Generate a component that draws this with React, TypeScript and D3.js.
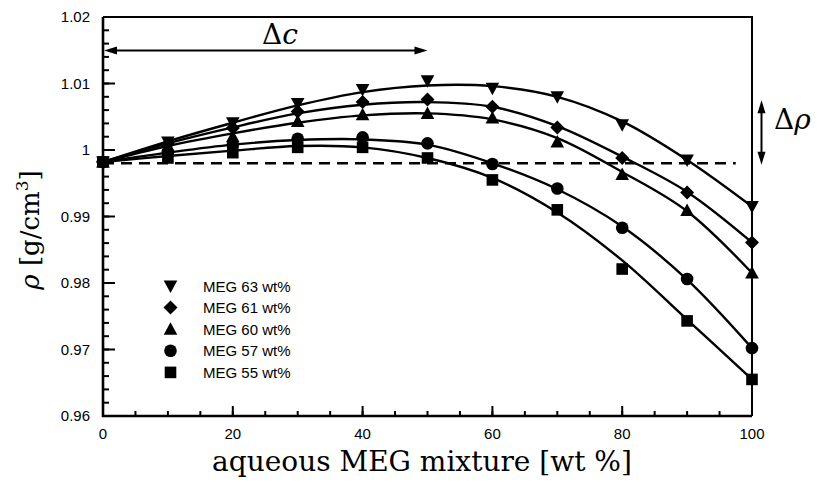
import React from 'react';
import * as d3 from 'd3';

// MEG content of the aqueous mixture, wt %
const conc = [0, 10, 20, 30, 40, 50, 60, 70, 80, 90, 100];

// measured densities, g/cm3
const meg63 = [0.9982, 1.0012, 1.0041, 1.0070, 1.0091, 1.0104, 1.0093, 1.0080, 1.0038, 0.9985, 0.9915];
const meg61 = [0.9982, 1.0009, 1.0033, 1.0058, 1.0072, 1.0076, 1.0065, 1.0034, 0.9988, 0.9936, 0.9861];
const meg60 = [0.9982, 1.0006, 1.0020, 1.0043, 1.0053, 1.0055, 1.0048, 1.0012, 0.9963, 0.9909, 0.9815];
const meg57 = [0.9982, 0.9996, 1.0008, 1.0017, 1.0019, 1.0010, 0.9979, 0.9942, 0.9883, 0.9806, 0.9702];
const meg55 = [0.9982, 0.9988, 0.9996, 1.0004, 1.0004, 0.9988, 0.9955, 0.9910, 0.9821, 0.9743, 0.9655];

// fitted curves read at the same concentrations
const fit63 = [0.9982, 1.0013, 1.0041, 1.0067, 1.0087, 1.0097, 1.0096, 1.0080, 1.0043, 0.9985, 0.9915];
const fit61 = [0.9982, 1.0010, 1.0034, 1.0055, 1.0068, 1.0072, 1.0065, 1.0036, 0.9990, 0.9937, 0.9861];
const fit60 = [0.9982, 1.0006, 1.0025, 1.0041, 1.0052, 1.0055, 1.0046, 1.0018, 0.9967, 0.9908, 0.9815];
const fit57 = [0.9982, 0.9996, 1.0008, 1.0015, 1.0016, 1.0008, 0.9980, 0.9941, 0.9885, 0.9805, 0.9702];
const fit55 = [0.9982, 0.9991, 0.9999, 1.0006, 1.0004, 0.9988, 0.9958, 0.9906, 0.9834, 0.9745, 0.9655];

const labels = ['MEG 63 wt%', 'MEG 61 wt%', 'MEG 60 wt%', 'MEG 57 wt%', 'MEG 55 wt%'];
const symbols = ['down', 'diamond', 'up', 'circle', 'square'];

const xTicks = [0, 20, 40, 60, 80, 100];
const yTicks = [0.96, 0.97, 0.98, 0.99, 1, 1.01, 1.02];
const waterDensity = 0.998;
const dcRange = [0, 50];
const drRange = [1.0075, 0.9978];

const W = 817, H = 484;
const L = 103, R = 752, T = 17, B = 416;

function Marker({ kind, x, y }: { kind: string; x: number; y: number }) {
  if (kind === 'circle') return <circle cx={x} cy={y} r={6.3} fill="#000" />;
  if (kind === 'square') return <rect x={x - 5.8} y={y - 5.8} width={11.6} height={11.6} fill="#000" />;
  if (kind === 'diamond')
    return <path d={`M${x},${y - 7}L${x + 7},${y}L${x},${y + 7}L${x - 7},${y}Z`} fill="#000" />;
  if (kind === 'up')
    return <path d={`M${x},${y - 7}L${x + 6.8},${y + 5.5}L${x - 6.8},${y + 5.5}Z`} fill="#000" />;
  return <path d={`M${x},${y + 7}L${x + 6.8},${y - 5.5}L${x - 6.8},${y - 5.5}Z`} fill="#000" />;
}

export default function App() {
  const x = d3.scaleLinear().domain([0, 100]).range([L, R]);
  const y = d3.scaleLinear().domain([0.96, 1.02]).range([B, T]);

  const series = [meg63, meg61, meg60, meg57, meg55];
  const fits = [fit63, fit61, fit60, fit57, fit55];

  const line = d3.line<number>()
    .x((d, i) => x(conc[i]))
    .y(d => y(d))
    .curve(d3.curveCatmullRom.alpha(0.5));

  const yMinor = d3.range(0, 31).map(i => 0.96 + i * 0.002);
  const xMinor = d3.range(0, 21).map(i => i * 5);

  const sans = '"Liberation Sans", Arial, sans-serif';
  const serif = '"DejaVu Serif", serif';

  const ah = (x1: number, y1: number, dx: number, dy: number) => {
    // arrow head with tip at (x1,y1), pointing along (dx,dy)
    const len = 13, hw = 4;
    const bx = x1 - dx * len, by = y1 - dy * len;
    return `M${x1},${y1}L${bx - dy * hw},${by + dx * hw}L${bx + dy * hw},${by - dx * hw}Z`;
  };

  const arrowY = 50.5;
  const arrowX = 761.5;

  return (
    <svg width={W} height={H} style={{ position: 'absolute', left: 0, top: 0, background: '#fff' }}>
      {/* minor ticks */}
      {yMinor.map((v, i) => (
        <line key={'ym' + i} x1={L} x2={L + 6} y1={y(v)} y2={y(v)} stroke="#000" strokeWidth={2} />
      ))}
      {yTicks.map(v => (
        <line key={'yM' + v} x1={L} x2={L + 12} y1={y(v)} y2={y(v)} stroke="#000" strokeWidth={2} />
      ))}
      {xMinor.map((v, i) => (
        <line key={'xm' + i} x1={x(v)} x2={x(v)} y1={B} y2={B - 5} stroke="#000" strokeWidth={2} />
      ))}
      {xTicks.map(v => (
        <line key={'xM' + v} x1={x(v)} x2={x(v)} y1={B} y2={B - 10} stroke="#000" strokeWidth={2} />
      ))}

      {/* tick labels */}
      {yTicks.map(v => (
        <text key={'yl' + v} x={L - 13} y={y(v) + 5} textAnchor="end" fontFamily={sans} fontSize={15}>
          {d3.format('')(+v.toFixed(2))}
        </text>
      ))}
      {xTicks.map(v => (
        <text key={'xl' + v} x={x(v)} y={439} textAnchor="middle" fontFamily={sans} fontSize={15}>
          {v}
        </text>
      ))}

      {/* water density reference */}
      <line x1={L} x2={x(97.5)} y1={y(waterDensity)} y2={y(waterDensity)} stroke="#000"
        strokeWidth={2.4} strokeDasharray="11,7" />

      {/* fit curves */}
      {fits.map((f, i) => (
        <path key={'f' + i} d={line(f) || ''} fill="none" stroke="#000" strokeWidth={2.4} />
      ))}

      {/* frame */}
      <path d={`M${L},${T}H${R}V${B}`} fill="none" stroke="#000" strokeWidth={2} />
      <path d={`M${L},${T}V${B}H${R}`} fill="none" stroke="#000" strokeWidth={2.6} />

      {/* markers */}
      {series.map((s, i) =>
        s.map((v, j) => <Marker key={i + '-' + j} kind={symbols[i]} x={x(conc[j])} y={y(v)} />)
      )}

      {/* delta c arrow */}
      <line x1={x(dcRange[0]) + 8} x2={x(dcRange[1]) - 8} y1={arrowY} y2={arrowY} stroke="#000" strokeWidth={2} />
      <path d={ah(x(dcRange[0]) + 1, arrowY, -1, 0)} fill="#000" />
      <path d={ah(x(dcRange[1]), arrowY, 1, 0)} fill="#000" />
      <text x={280} y={44} textAnchor="middle" fontFamily={serif} fontSize={28}>
        Δ<tspan fontStyle="italic">c</tspan>
      </text>

      {/* delta rho arrow */}
      <line x1={arrowX} x2={arrowX} y1={y(drRange[0]) + 8} y2={y(drRange[1]) - 8} stroke="#000" strokeWidth={2} />
      <path d={ah(arrowX, y(drRange[0]), 0, -1)} fill="#000" />
      <path d={ah(arrowX, y(drRange[1]), 0, 1)} fill="#000" />
      <text x={774} y={129} fontFamily={serif} fontSize={28}>
        Δ<tspan fontStyle="italic">ρ</tspan>
      </text>

      {/* legend */}
      {labels.map((lab, i) => (
        <g key={'lg' + i}>
          <Marker kind={symbols[i]} x={170.5} y={286 + i * 21.6} />
          <text x={203} y={286 + i * 21.6 + 5.5} fontFamily={sans} fontSize={15}>{lab}</text>
        </g>
      ))}

      {/* axis titles */}
      <text x={422} y={471} textAnchor="middle" fontFamily={serif} fontSize={28}>
        aqueous MEG mixture [wt %]
      </text>
      <text transform="translate(39,230) rotate(-90)" textAnchor="middle" fontFamily={serif} fontSize={26}>
        <tspan fontStyle="italic">ρ</tspan> [g/cm<tspan fontSize={17} dy={-11}>3</tspan><tspan dy={11}>]</tspan>
      </text>
    </svg>
  );
}
